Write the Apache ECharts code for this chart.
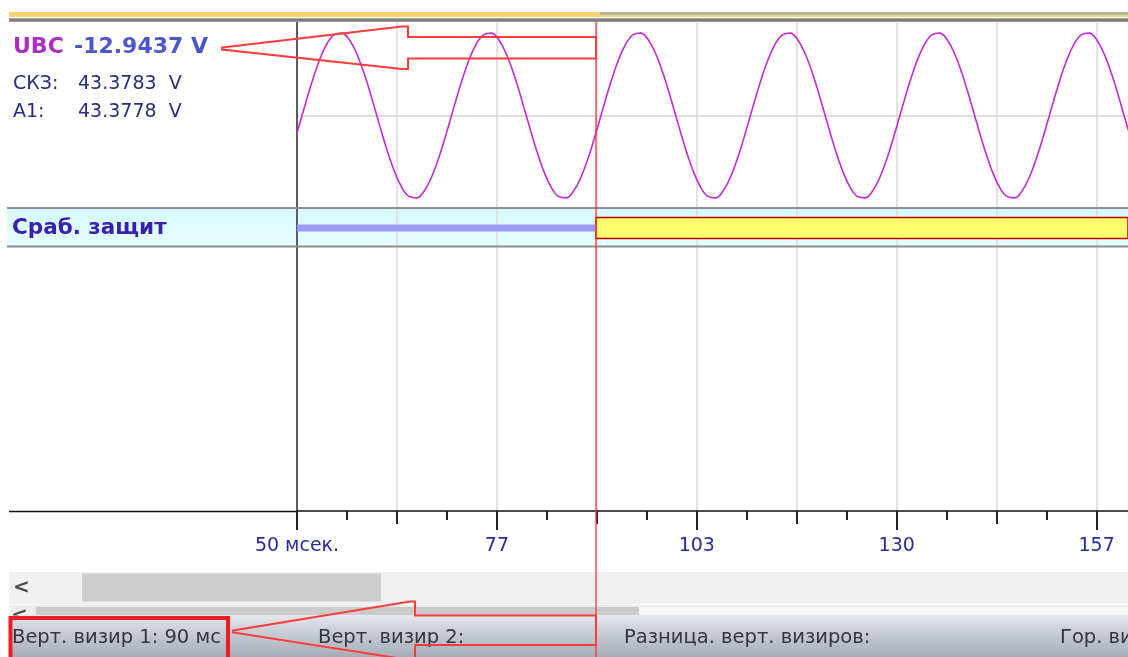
<!DOCTYPE html>
<html>
<head>
<meta charset="utf-8">
<title>UBC - осциллограмма</title>
<script src="https://cdn.jsdelivr.net/npm/echarts@6/dist/echarts.min.js"></script>
<style>
  html, body { margin: 0; padding: 0; background: #fff; }
  #chart { width: 1128px; height: 657px; }
</style>
</head>
<body>
<div id="chart"></div>
<script>
// отсчёты UBC (В), шаг 1 мс начиная с 50 мс
const sampleStart = 50;
const sampleStep = 1;
const ubcValues = [
    -12.97, 6.20, 24.76, 40.89, 53.03, 59.96, 61.04, 56.14, 45.74, 30.86,
    12.97, -6.20, -24.76, -40.89, -53.03, -59.96, -61.04, -56.14, -45.74, -30.86,
    -12.97, 6.20, 24.76, 40.89, 53.03, 59.96, 61.04, 56.14, 45.74, 30.86,
    12.97, -6.20, -24.76, -40.89, -53.03, -59.96, -61.04, -56.14, -45.74, -30.86,
    -12.97, 6.20, 24.76, 40.89, 53.03, 59.96, 61.04, 56.14, 45.74, 30.86,
    12.97, -6.20, -24.76, -40.89, -53.03, -59.96, -61.04, -56.14, -45.74, -30.86,
    -12.97, 6.20, 24.76, 40.89, 53.03, 59.96, 61.04, 56.14, 45.74, 30.86,
    12.97, -6.20, -24.76, -40.89, -53.03, -59.96, -61.04, -56.14, -45.74, -30.86,
    -12.97, 6.20, 24.76, 40.89, 53.03, 59.96, 61.04, 56.14, 45.74, 30.86,
    12.97, -6.20, -24.76, -40.89, -53.03, -59.96, -61.04, -56.14, -45.74, -30.86,
    -12.97, 6.20, 24.76, 40.89, 53.03, 59.96, 61.04, 56.14, 45.74, 30.86,
    12.97, -6.20, -24.76
];

// дискретный сигнал "Сраб. защит": до визира 0, после - 1
const protOffRange = [50, 90];
const protOnRange = [90, 161.2];

// визир 1 и показания в нём
const cursorTime = 90;
const channelName = 'UBC';
const cursorValue = '-12.9437 V';
const infoLabels = ['СКЗ:', 'A1:'];
const infoValues = ['43.3783  V', '43.3778  V'];
const protName = 'Сраб. защит';

// ось времени
const xMin = 50;
const xMax = 161.2;
const majorTicks = [50, 76.75, 103.5, 130.25, 157];
const tickLabels = ['50 мсек.', '77', '103', '130', '157'];
const gridTicks = [50, 63.375, 76.75, 90.125, 103.5, 116.875, 130.25, 143.625, 157];
const minorTicks = [56.6875, 70.0625, 83.4375, 96.8125, 110.1875, 123.5625, 136.9375, 150.3125];

// строка состояния
const statusTexts = ['Верт. визир 1: 90 мс', 'Верт. визир 2:', 'Разница. верт. визиров:', 'Гор. визир 1:'];
const statusX = [12, 318, 624, 1060];

const FONT = '"DejaVu Sans", Verdana, sans-serif';
const GRID_COLOR = '#dadada';
const AXIS_DARK = '#5c5c5c';

function hiddenX(gridIndex) {
    return {
        type: 'value', gridIndex: gridIndex, min: xMin, max: xMax,
        axisLine: { show: false, onZero: false },
        axisTick: { show: false, customValues: gridTicks },
        axisLabel: { show: false },
        splitLine: { show: true, lineStyle: { color: GRID_COLOR, width: 1.5 } }
    };
}

function leftY(gridIndex, min, max, extra) {
    return Object.assign({
        type: 'value', gridIndex: gridIndex, min: min, max: max,
        axisLine: { show: true, onZero: false, lineStyle: { color: AXIS_DARK, width: 2 } },
        axisTick: { show: false },
        axisLabel: { show: false },
        splitLine: { show: false }
    }, extra || {});
}

function labelFor(value) {
    const i = majorTicks.findIndex(t => Math.abs(t - value) < 1e-6);
    return i >= 0 ? tickLabels[i] : '';
}

const chart = echarts.init(document.getElementById('chart'));

const option = {
    animation: false,
    backgroundColor: '#fff',
    grid: [
        { left: 297, right: 0, top: 21, height: 189 },
        {
            left: 297, right: 0, top: 208, height: 38, show: true, borderWidth: 0,
            backgroundColor: {
                type: 'linear', x: 0, y: 0, x2: 0, y2: 1,
                colorStops: [{ offset: 0, color: '#d4f9fa' }, { offset: 1, color: '#e6fefe' }]
            }
        },
        { left: 297, right: 0, top: 246, height: 265 }
    ],
    xAxis: [
        hiddenX(0),
        hiddenX(1),
        {
            type: 'value', gridIndex: 2, position: 'bottom', min: xMin, max: xMax,
            axisLine: { show: true, onZero: false, lineStyle: { color: '#111', width: 1.5 } },
            axisTick: { show: true, customValues: majorTicks, length: 19, lineStyle: { color: '#222', width: 2 } },
            axisLabel: {
                show: true, customValues: majorTicks, margin: 26,
                formatter: labelFor,
                color: '#2a2a9c', fontFamily: FONT, fontSize: 19
            },
            splitLine: { show: false }
        },
        {
            type: 'value', gridIndex: 2, position: 'bottom', min: xMin, max: xMax,
            axisLine: { show: false, onZero: false },
            axisTick: { show: true, customValues: gridTicks, length: 13, lineStyle: { color: '#222', width: 2 } },
            axisLabel: { show: false },
            splitLine: { show: true, lineStyle: { color: GRID_COLOR, width: 1.5 } }
        },
        {
            type: 'value', gridIndex: 2, position: 'bottom', min: xMin, max: xMax,
            axisLine: { show: false, onZero: false },
            axisTick: { show: true, customValues: minorTicks, length: 9, lineStyle: { color: '#222', width: 2 } },
            axisLabel: { show: false },
            splitLine: { show: false }
        }
    ],
    yAxis: [
        leftY(0, -70, 70, {
            axisTick: { show: false, customValues: [0] },
            splitLine: { show: true, lineStyle: { color: '#d4d4d4', width: 1.5 } }
        }),
        leftY(1, -1.8, 2.0),
        leftY(2, 0, 1)
    ],
    series: [
        {
            name: channelName,
            type: 'line',
            xAxisIndex: 0, yAxisIndex: 0,
            data: ubcValues.map((v, i) => [sampleStart + i * sampleStep, v]),
            showSymbol: false,
            smooth: 0.4,
            lineStyle: { color: '#c22ad2', width: 1.6 },
            z: 3
        },
        {
            name: protName,
            type: 'line',
            xAxisIndex: 1, yAxisIndex: 1,
            data: protOffRange.map(t => [t, 0]),
            showSymbol: false,
            lineStyle: { color: '#9c9cf8', width: 7, cap: 'butt' },
            markArea: {
                silent: true,
                itemStyle: { color: '#ffff6e', borderColor: '#c00000', borderWidth: 1.5 },
                data: [[{ xAxis: protOnRange[0], yAxis: -1.05 }, { xAxis: protOnRange[1], yAxis: 1.05 }]]
            }
        }
    ]
};

chart.setOption(option);

function buildGraphics(cx) {
    const g = [];
    const W = 1128;
    // верхняя полоса
    g.push({ type: 'rect', z: 50, shape: { x: 9, y: 12, width: cx + 4 - 9, height: 5 }, style: { fill: '#f8d26f' } });
    g.push({ type: 'rect', z: 50, shape: { x: cx + 4, y: 12, width: W - cx - 4, height: 3 }, style: { fill: '#b2bb98' } });
    g.push({ type: 'rect', z: 50, shape: { x: cx + 4, y: 15, width: W - cx - 4, height: 2 }, style: { fill: '#f0d67c' } });
    g.push({
        type: 'rect', z: 50, shape: { x: 9, y: 18, width: W - 9, height: 4 },
        style: {
            fill: {
                type: 'linear', x: 0, y: 0, x2: 0, y2: 1,
                colorStops: [{ offset: 0, color: '#b4b4b4' }, { offset: 0.5, color: '#6e6e6e' }, { offset: 1, color: '#a8a8a8' }]
            }
        }
    });
    // фон подписи дискретного канала
    g.push({
        type: 'rect', z: 0, shape: { x: 7, y: 208, width: 290, height: 38 },
        style: {
            fill: {
                type: 'linear', x: 0, y: 0, x2: 0, y2: 1,
                colorStops: [{ offset: 0, color: '#d4f9fa' }, { offset: 1, color: '#e6fefe' }]
            }
        }
    });
    // разделители
    g.push({ type: 'rect', z: 50, shape: { x: 7, y: 207, width: W - 7, height: 2 }, style: { fill: '#8e8e8e' } });
    g.push({ type: 'rect', z: 50, shape: { x: 7, y: 245.5, width: W - 7, height: 2 }, style: { fill: '#8e8e8e' } });
    // продолжение оси времени влево
    g.push({ type: 'line', z: 50, shape: { x1: 9, y1: 511.5, x2: 297, y2: 511.5 }, style: { stroke: '#111', lineWidth: 1.5 } });

    // подписи канала
    g.push({ type: 'text', z: 50, style: { text: channelName, x: 13, y: 47, fill: '#ad2cc6', font: 'bold 22px ' + FONT, verticalAlign: 'middle', textVerticalAlign: 'middle' } });
    g.push({ type: 'text', z: 50, style: { text: cursorValue, x: 74, y: 47, fill: '#4c55cc', font: 'bold 22px ' + FONT, verticalAlign: 'middle', textVerticalAlign: 'middle' } });
    const rowY = [84, 112];
    infoLabels.forEach((lab, i) => {
        g.push({ type: 'text', z: 50, style: { text: lab, x: 13, y: rowY[i], fill: '#2c2c7c', font: '19px ' + FONT, verticalAlign: 'middle', textVerticalAlign: 'middle' } });
        g.push({ type: 'text', z: 50, style: { text: infoValues[i], x: 78, y: rowY[i], fill: '#2c2c7c', font: '19px ' + FONT, verticalAlign: 'middle', textVerticalAlign: 'middle' } });
    });
    g.push({ type: 'text', z: 50, style: { text: protName, x: 12, y: 228, fill: '#3a20b0', font: 'bold 21.5px ' + FONT, verticalAlign: 'middle', textVerticalAlign: 'middle' } });

    // полосы прокрутки
    g.push({ type: 'rect', z: 50, shape: { x: 9, y: 572, width: W - 9, height: 32 }, style: { fill: '#f0f0f0' } });
    g.push({ type: 'rect', z: 50, shape: { x: 82, y: 573.5, width: 299, height: 28 }, style: { fill: '#cdcdcd' } });
    g.push({ type: 'text', z: 50, style: { text: '<', x: 13, y: 588, fill: '#4a4a4a', font: 'bold 20px ' + FONT, verticalAlign: 'middle', textVerticalAlign: 'middle' } });
    g.push({ type: 'rect', z: 50, shape: { x: 9, y: 605, width: W - 9, height: 11 }, style: { fill: '#ececec' } });
    g.push({ type: 'rect', z: 50, shape: { x: 36, y: 607, width: W - 36, height: 8 }, style: { fill: '#f6f6f6' } });
    g.push({ type: 'rect', z: 50, shape: { x: 36, y: 607, width: 603, height: 8 }, style: { fill: '#cbcbcb' } });
    g.push({ type: 'text', z: 50, style: { text: '<', x: 11, y: 616, fill: '#4a4a4a', font: 'bold 20px ' + FONT, verticalAlign: 'middle', textVerticalAlign: 'middle' } });

    // строка состояния
    g.push({
        type: 'rect', z: 55, shape: { x: 9, y: 615.5, width: W - 9, height: 42 },
        style: {
            fill: {
                type: 'linear', x: 0, y: 0, x2: 0, y2: 1,
                colorStops: [{ offset: 0, color: '#e3e6eb' }, { offset: 0.45, color: '#c6cad1' }, { offset: 1, color: '#a6adb7' }]
            }
        }
    });
    statusTexts.forEach((t, i) => {
        g.push({ type: 'text', z: 56, style: { text: t, x: statusX[i], y: 638, fill: '#35353e', font: '19.5px ' + FONT, verticalAlign: 'middle', textVerticalAlign: 'middle' } });
    });

    // визир 1
    g.push({ type: 'line', z: 60, shape: { x1: cx, y1: 22, x2: cx, y2: 657 }, style: { stroke: '#ff3434', lineWidth: 1.3 } });

    // пометки-стрелки
    const red = { fill: 'none', stroke: '#ff3c3c', lineWidth: 2 };
    g.push({
        type: 'polygon', z: 60, style: red,
        shape: { points: [[222, 47.5], [402, 26.5], [408, 26.5], [408, 37], [cx, 37], [cx, 58.5], [408, 58.5], [408, 69], [402, 69], [222, 49.5]] }
    });
    g.push({
        type: 'polygon', z: 60, style: red,
        shape: { points: [[233, 630.5], [410, 601.5], [415, 601.5], [415, 615.5], [cx, 615.5], [cx, 645], [415, 645], [415, 660], [410, 660], [233, 632.5]] }
    });
    g.push({ type: 'rect', z: 60, shape: { x: 10.5, y: 618, width: 217.5, height: 45 }, style: { fill: 'none', stroke: '#ee1c24', lineWidth: 4 } });
    return g;
}

const cursorX = Math.round(chart.convertToPixel({ xAxisIndex: 0 }, cursorTime));
chart.setOption({ graphic: buildGraphics(cursorX) });
</script>
</body>
</html>
